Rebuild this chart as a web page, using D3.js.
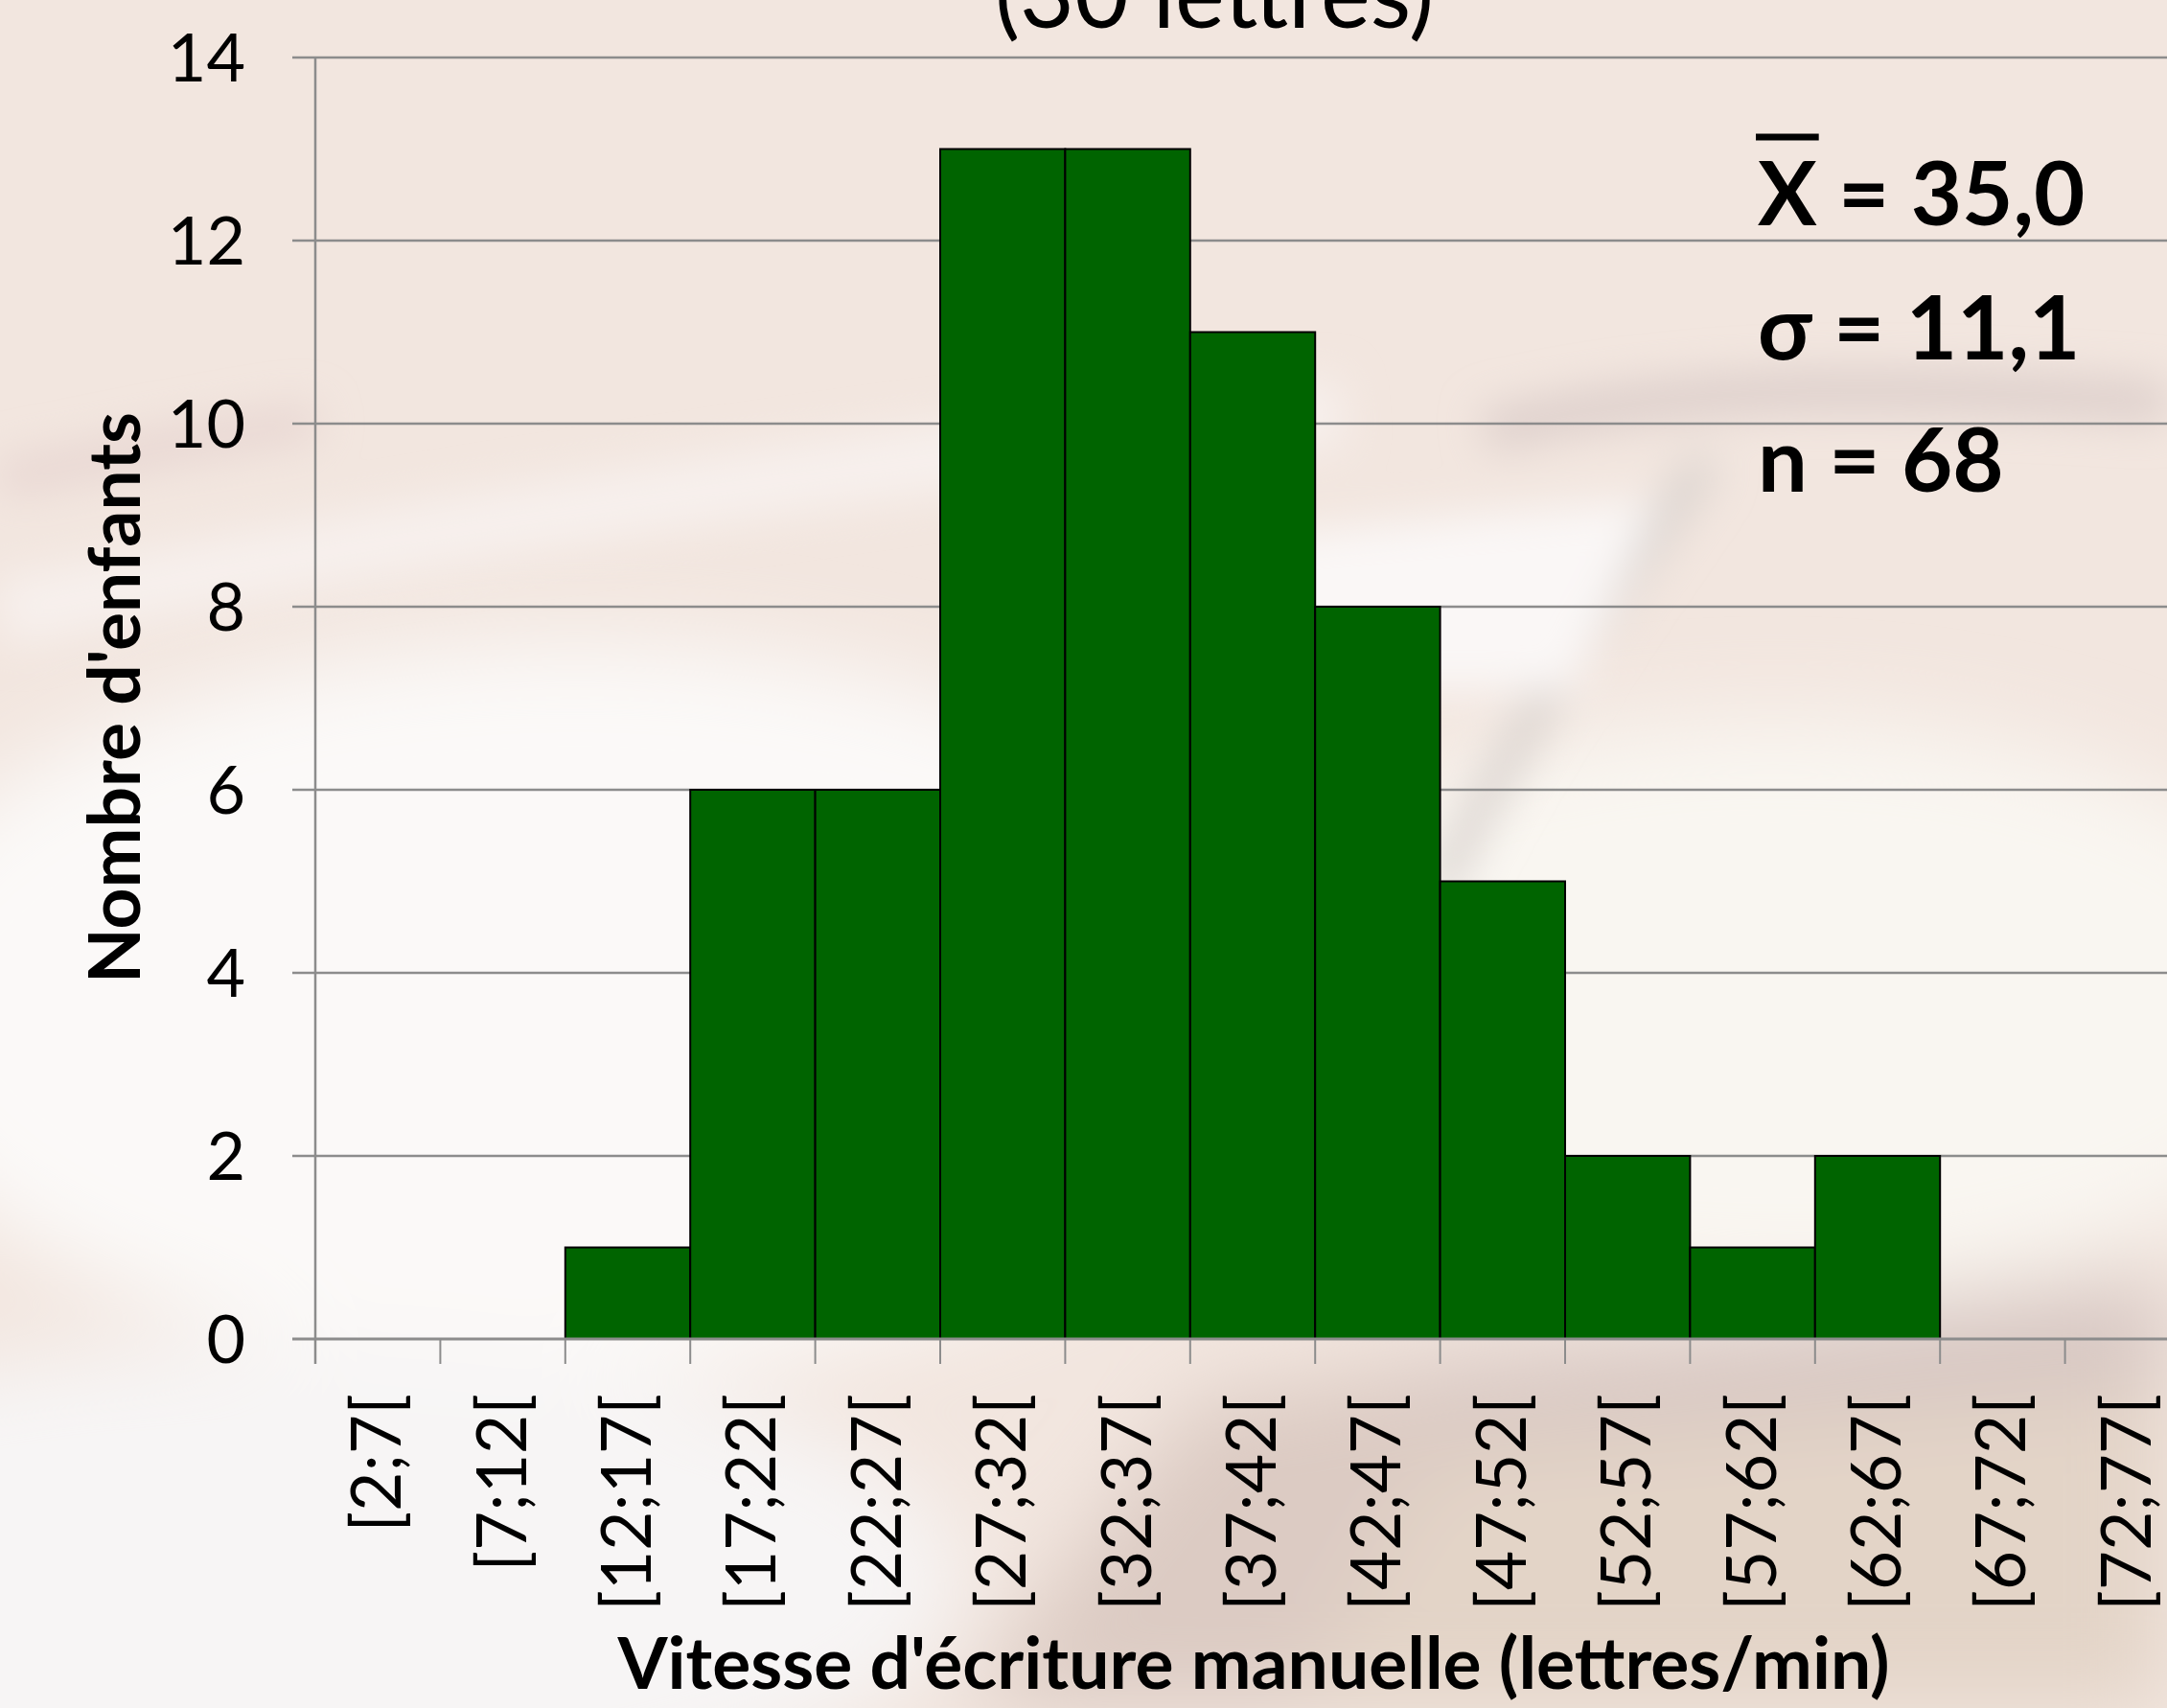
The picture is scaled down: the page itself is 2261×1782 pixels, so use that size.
<!DOCTYPE html>
<html><head><meta charset="utf-8">
<script src="https://cdn.jsdelivr.net/npm/d3@7"></script>
<style>html,body{margin:0;padding:0;overflow:hidden;background:#f3e8e1}</style>
</head><body>
<script>
// ---- data ----
const categories = ["[2;7[","[7;12[","[12;17[","[17;22[","[22;27[","[27;32[","[32;37[","[37;42[","[42;47[","[47;52[","[52;57[","[57;62[","[62;67[","[67;72[","[72;77["];
const counts = [0,0,1,6,6,13,13,11,8,5,2,1,2,0,0];
const yTicks = [0,2,4,6,8,10,12,14];
const titleText = "(30 lettres)";
const xTitle = "Vitesse d'écriture manuelle (lettres/min)";
const yTitle = "Nombre d'enfants";
const statSymbols = ["X","σ","n"];
const statValues = ["35,0","11,1","68"];

// ---- layout ----
const W = 2261, H = 1782;
const FONT = "Lato, 'Open Sans', 'DejaVu Sans', sans-serif";
const svg = d3.select("body").append("svg").attr("width", W).attr("height", H);
const defs = svg.append("defs");
defs.append("filter").attr("id","b1").attr("x","-50%").attr("y","-50%").attr("width","200%").attr("height","200%")
  .append("feGaussianBlur").attr("stdDeviation", 45);
defs.append("filter").attr("id","b2").attr("x","-50%").attr("y","-50%").attr("width","200%").attr("height","200%")
  .append("feGaussianBlur").attr("stdDeviation", 22);

// ---- background (blurred photo impression) ----
const bg = svg.append("g");
bg.append("rect").attr("width", W).attr("height", H).attr("fill", "#f2e6df");
const blur1 = bg.append("g").attr("filter","url(#b1)");
blur1.append("ellipse").attr("cx",600).attr("cy",1050).attr("rx",750).attr("ry",380).attr("fill","#fbf9f8");
blur1.append("ellipse").attr("cx",1850).attr("cy",1050).attr("rx",600).attr("ry",300).attr("fill","#f9f6f1");
blur1.append("ellipse").attr("cx",300).attr("cy",1650).attr("rx",700).attr("ry",250).attr("fill","#f7f5f5");
blur1.append("path").attr("d","M1000,1782 L1250,1460 L1500,1420 L2261,1330 L2261,1782 Z").attr("fill","#dccbc3");
blur1.append("path").attr("d","M1350,1782 L1500,1520 L2261,1450 L2261,1782 Z").attr("fill","#e3d4c7");
blur1.append("path").attr("d","M1450,1450 L2261,1370 L2261,1420 L1500,1470 Z").attr("fill","#d2c3c2");
const blur2 = bg.append("g").attr("filter","url(#b2)");
blur2.append("path").attr("d","M0,500 C150,470 250,450 330,440").attr("stroke","#e7d5d1").attr("stroke-width",35).attr("fill","none");
blur2.append("path").attr("d","M0,640 C400,560 900,480 1400,430").attr("stroke","#f7f0ed").attr("stroke-width",70).attr("fill","none");
blur2.append("path").attr("d","M1550,450 C1750,400 1950,400 2261,420").attr("stroke","#dcceca").attr("stroke-width",40).attr("fill","none");
blur2.append("path").attr("d","M1780,480 C1700,600 1580,760 1500,930").attr("stroke","#d8d1cd").attr("stroke-width",30).attr("fill","none");
blur2.append("path").attr("d","M1300,560 L1730,520 L1640,720 L1300,720 Z").attr("fill","#faf7f6");

// ---- scales ----
const x0 = 329, y0 = 1397, yTop = 60, band = 130.4;
const x = d3.scaleBand().domain(categories).range([x0, x0 + band * categories.length]).padding(0);
const y = d3.scaleLinear().domain([0, 14]).range([y0, yTop]);

// gridlines
const grid = svg.append("g");
grid.selectAll("line").data(yTicks.filter(d => d > 0)).join("line")
  .attr("x1", 305).attr("x2", W).attr("y1", d => y(d)).attr("y2", d => y(d))
  .attr("stroke", "#8c8c8c").attr("stroke-width", 2.5);

// y axis line
svg.append("line").attr("x1", x0).attr("x2", x0).attr("y1", yTop).attr("y2", y0 + 26)
  .attr("stroke", "#8c8c8c").attr("stroke-width", 2.5);

// bars
svg.append("g").selectAll("rect").data(counts.map((v,i)=>({c:categories[i], v}))).join("rect")
  .filter(d => d.v > 0)
  .attr("x", d => x(d.c)).attr("width", x.bandwidth())
  .attr("y", d => y(d.v)).attr("height", d => y(0) - y(d.v))
  .attr("fill", "#006400").attr("stroke", "#000").attr("stroke-width", 2);

// x axis line and ticks
svg.append("line").attr("x1", 305).attr("x2", W).attr("y1", y0).attr("y2", y0)
  .attr("stroke", "#8c8c8c").attr("stroke-width", 3);
const bounds = categories.map(c => x(c)).concat([x(categories[categories.length-1]) + x.bandwidth()]);
svg.append("g").selectAll("line").data(bounds).join("line")
  .attr("x1", d => d).attr("x2", d => d).attr("y1", y0).attr("y2", y0 + 26)
  .attr("stroke", "#8c8c8c").attr("stroke-width", 2);

// y tick labels
svg.append("g").selectAll("text").data(yTicks).join("text")
  .attr("x", 256).attr("y", d => y(d)).attr("dy", "0.36em")
  .attr("text-anchor", "end").attr("font-family", FONT).attr("font-size", 70).attr("fill", "#000")
  .text(d => d);

// x tick labels (rotated)
svg.append("g").selectAll("text").data(categories).join("text")
  .attr("transform", d => `translate(${x(d) + x.bandwidth()/2 + 24},1454) rotate(-90)`)
  .attr("text-anchor", "end").attr("font-family", FONT).attr("font-size", 71).attr("fill", "#000")
  .text(d => d);

// axis titles
svg.append("text").attr("x", 1308).attr("y", 1762).attr("text-anchor", "middle")
  .attr("font-family", FONT).attr("font-weight", "bold").attr("font-size", 75).text(xTitle);
svg.append("text").attr("transform", "translate(146,728) rotate(-90)").attr("text-anchor", "middle")
  .attr("font-family", FONT).attr("font-weight", "bold").attr("font-size", 75).text(yTitle);

// chart title (mostly cut off at top, as in the original)
svg.append("text").attr("x", 1267).attr("y", 29).attr("text-anchor", "middle")
  .attr("font-family", FONT).attr("font-size", 98).text(titleText);

// stats block
const statY = [235, 375, 513];
statSymbols.forEach((s, i) => {
  const t = svg.append("text").attr("x", 1834).attr("y", statY[i])
    .attr("font-family", FONT).attr("font-weight", "bold").attr("font-size", 92).attr("fill", "#000");
  t.append("tspan").text(s);
  t.append("tspan").text(" = " + statValues[i]);
  if (i === 0) {
    const ext = t.node().getExtentOfChar(0);
    svg.append("line").attr("x1", ext.x - 2).attr("x2", ext.x + ext.width + 2)
      .attr("y1", 143).attr("y2", 143).attr("stroke", "#000").attr("stroke-width", 7);
  }
});
</script>
</body></html>
